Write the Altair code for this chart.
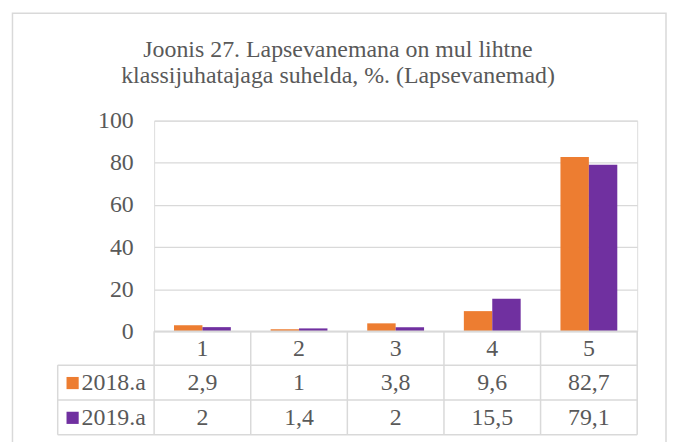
import altair as alt
import pandas as pd

categories = ["1", "2", "3", "4", "5"]
series_names = ["2018.a", "2019.a"]
values_2018 = [2.9, 1, 3.8, 9.6, 82.7]
values_2019 = [2, 1.4, 2, 15.5, 79.1]
colors = ["#ED7D31", "#7030A0"]
title_lines = ["Joonis 27. Lapsevanemana on mul lihtne",
               "klassijuhatajaga suhelda, %. (Lapsevanemad)"]
y_ticks = [0, 20, 40, 60, 80, 100]

FONT = "Liberation Serif"
TXT = "#595959"
LINE = "#d9d9d9"
FS = 24
W, H = 486, 212


def fmt(v):
    return f"{v:g}".replace(".", ",")


rows = []
for name, vals in zip(series_names, [values_2018, values_2019]):
    for c, v in zip(categories, vals):
        rows.append({"cat": c, "series": name, "value": v, "label": fmt(v)})
df = pd.DataFrame(rows)
cat_df = pd.DataFrame({"cat": categories})
one = pd.DataFrame({"a": [0]})

xscale = alt.Scale(domain=categories, paddingInner=0, paddingOuter=0)
color_scale = alt.Scale(domain=series_names, range=colors)

bars = alt.Chart(df).mark_bar().encode(
    x=alt.X("cat:N", scale=xscale, axis=None),
    xOffset=alt.XOffset("series:N", scale=alt.Scale(domain=series_names, paddingOuter=0.7, paddingInner=0)),
    y=alt.Y("value:Q", scale=alt.Scale(domain=[0, 100]),
            axis=alt.Axis(values=y_ticks, grid=True, gridColor=LINE, gridWidth=1.2,
                          domain=False, ticks=False, labelPadding=21,
                          labelFont=FONT, labelFontSize=FS, labelColor=TXT, title=None)),
    color=alt.Color("series:N", scale=color_scale, legend=None),
)

# table texts
cat_text = alt.Chart(cat_df).mark_text(font=FONT, fontSize=FS, color=TXT, baseline="middle").encode(
    x=alt.X("cat:N", scale=xscale), y=alt.value(230), text="cat:N")

row_y = {"2018.a": 264, "2019.a": 299}
val_layers = []
for name in series_names:
    val_layers.append(
        alt.Chart(df[df["series"] == name]).mark_text(font=FONT, fontSize=FS, color=TXT, baseline="middle").encode(
            x=alt.X("cat:N", scale=xscale), y=alt.value(row_y[name]), text="label:N"))
    val_layers.append(
        alt.Chart(pd.DataFrame({"series": [name]})).mark_point(shape="square", filled=True, size=150, opacity=1).encode(
            x=alt.value(-82), y=alt.value(row_y[name]),
            color=alt.Color("series:N", scale=color_scale, legend=None)))
    val_layers.append(
        alt.Chart(pd.DataFrame({"series": [name]})).mark_text(font=FONT, fontSize=FS, color=TXT, align="left", baseline="middle").encode(
            x=alt.value(-73), y=alt.value(row_y[name]), text="series:N"))

# table lines
vlines = alt.Chart(cat_df).mark_rule(color=LINE, strokeWidth=1.5).encode(
    x=alt.X("cat:N", scale=xscale, bandPosition=0), y=alt.value(212), y2=alt.value(316))
rules = []
for (x1, x2, y1, y2) in [(W, W, 212, 316), (-97, -97, 246, 316),
                         (0, W, 212, 212), (-97, W, 246, 246), (-97, W, 281, 281), (-97, W, 316, 316)]:
    rules.append(alt.Chart(one).mark_rule(color=LINE, strokeWidth=1.5).encode(
        x=alt.value(x1), x2=alt.value(x2), y=alt.value(y1), y2=alt.value(y2)))

frame = alt.Chart(one).mark_rect(filled=False, stroke=LINE, strokeWidth=1.5).encode(
    x=alt.value(-142.5), x2=alt.value(515), y=alt.value(-108), y2=alt.value(330))

titles = []
for i, t in enumerate(title_lines):
    titles.append(alt.Chart(pd.DataFrame({"t": [t]})).mark_text(
        font=FONT, fontSize=FS, color=TXT, align="center", baseline="alphabetic").encode(
        x=alt.value(185), y=alt.value([-64, -38][i]), text="t:N"))

chart = alt.layer(frame, bars, cat_text, *val_layers, vlines, *rules, *titles).properties(
    width=W, height=H,
    padding={"left": 147, "top": 112, "right": 30, "bottom": 110},
    autosize=alt.AutoSizeParams(type="none"),
).configure_view(stroke=None).configure(background="white")

chart.save("out.html", embed_options={"renderer": "svg", "actions": False})
